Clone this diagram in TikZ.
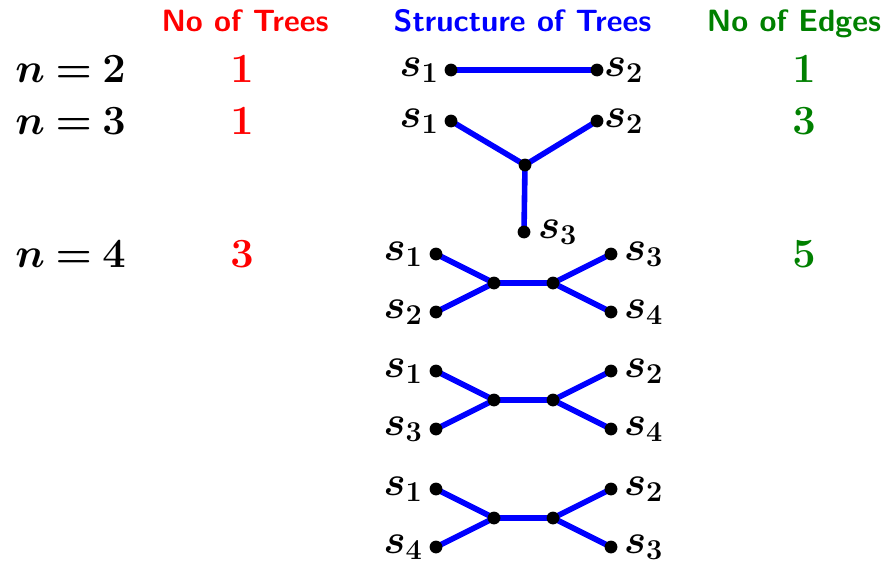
\documentclass[tikz,border=0pt]{standalone}
\usetikzlibrary{backgrounds}
\definecolor{hdrgreen}{RGB}{0,128,0}
\newcommand{\rowmath}[1]{$\thickmuskip=4mu\relax #1$}
\begin{document}
\begin{tikzpicture}[x=0.5pt,y=-0.5pt,
  hdr/.style={font=\fontsize{15.4}{18}\selectfont\sffamily\bfseries, inner sep=0pt, anchor=base},
  mth/.style={font=\fontsize{19.5}{23}\selectfont\boldmath, inner sep=0pt},
  rowlbl/.style={mth, anchor=base west},
  dot/.style={circle, fill=black, inner sep=0pt, minimum size=6.4pt},
  edge/.style={blue, line width=2.8pt},
  lbl/.style={font=\fontsize{19.5}{23}\selectfont\boldmath, inner sep=0.5pt},
  every label/.style={lbl}
]
\useasboundingbox (0,0) rectangle (884,562);
% headers
\node[hdr, text=red] (h1) at (245,32) {No of Trees};
\node[hdr, text=blue] (h2) at (522.5,32) {Structure of Trees};
\node[hdr, text=hdrgreen] (h3) at (794,32) {No of Edges};
% row labels
\node[rowlbl] (r2) at (15,82) {\rowmath{n=2}};
\node[rowlbl] (r3) at (15,134) {\rowmath{n=3}};
\node[rowlbl] (r4) at (15,267) {\rowmath{n=4}};
\node[mth, anchor=base, text=red] (t2) at (242,82) {$1$};
\node[mth, anchor=base, text=red] (t3) at (242,134) {$1$};
\node[mth, anchor=base, text=red] (t4) at (242,267) {$3$};
\node[mth, anchor=base, text=hdrgreen] (e2) at (804,82) {$1$};
\node[mth, anchor=base, text=hdrgreen] (e3) at (804,134) {$3$};
\node[mth, anchor=base, text=hdrgreen] (e4) at (804,267) {$5$};
% tree n=2
\node[dot, label={[label distance=2pt]left:$s_1$}] (a1) at (451,70) {};
\node[dot, label={[label distance=-0.5pt]right:$s_2$}] (a2) at (597,70) {};
% tree n=3
\node[dot, label={[label distance=2pt]left:$s_1$}] (b1) at (451,121) {};
\node[dot, label={[label distance=-0.5pt]right:$s_2$}] (b2) at (597,121) {};
\node[dot] (bc) at (525,165) {};
\node[dot, label={[label distance=3pt]right:$s_3$}] (b3) at (524,232) {};
% trees n=4
\node[dot, label={[label distance=2.5pt]left:$s_1$}] (c1) at (436,254) {};
\node[dot, label={[label distance=2.5pt]left:$s_2$}] (c2) at (436,312) {};
\node[dot] (cl) at (494,283) {};
\node[dot] (cr) at (553,283) {};
\node[dot, label={[label distance=2.5pt]right:$s_3$}] (c3) at (611,254) {};
\node[dot, label={[label distance=2.5pt]right:$s_4$}] (c4) at (611,312) {};

\node[dot, label={[label distance=2.5pt]left:$s_1$}] (d1) at (436,371) {};
\node[dot, label={[label distance=2.5pt]left:$s_3$}] (d2) at (436,429) {};
\node[dot] (dl) at (494,400) {};
\node[dot] (dr) at (553,400) {};
\node[dot, label={[label distance=2.5pt]right:$s_2$}] (d3) at (611,371) {};
\node[dot, label={[label distance=2.5pt]right:$s_4$}] (d4) at (611,429) {};

\node[dot, label={[label distance=2.5pt]left:$s_1$}] (f1) at (436,489) {};
\node[dot, label={[label distance=2.5pt]left:$s_4$}] (f2) at (436,547) {};
\node[dot] (fl) at (494,518) {};
\node[dot] (fr) at (553,518) {};
\node[dot, label={[label distance=2.5pt]right:$s_2$}] (f3) at (611,489) {};
\node[dot, label={[label distance=2.5pt]right:$s_3$}] (f4) at (611,547) {};

\begin{scope}[on background layer]
\draw[edge] (a1.center) -- (a2.center);
\draw[edge] (b1.center) -- (bc.center) -- (b2.center);
\draw[edge] (bc.center) -- (b3.center);
\draw[edge] (c1.center) -- (cl.center) -- (c2.center);
\draw[edge] (cl.center) -- (cr.center);
\draw[edge] (c3.center) -- (cr.center) -- (c4.center);
\draw[edge] (d1.center) -- (dl.center) -- (d2.center);
\draw[edge] (dl.center) -- (dr.center);
\draw[edge] (d3.center) -- (dr.center) -- (d4.center);
\draw[edge] (f1.center) -- (fl.center) -- (f2.center);
\draw[edge] (fl.center) -- (fr.center);
\draw[edge] (f3.center) -- (fr.center) -- (f4.center);
\end{scope}
\end{tikzpicture}
\end{document}
